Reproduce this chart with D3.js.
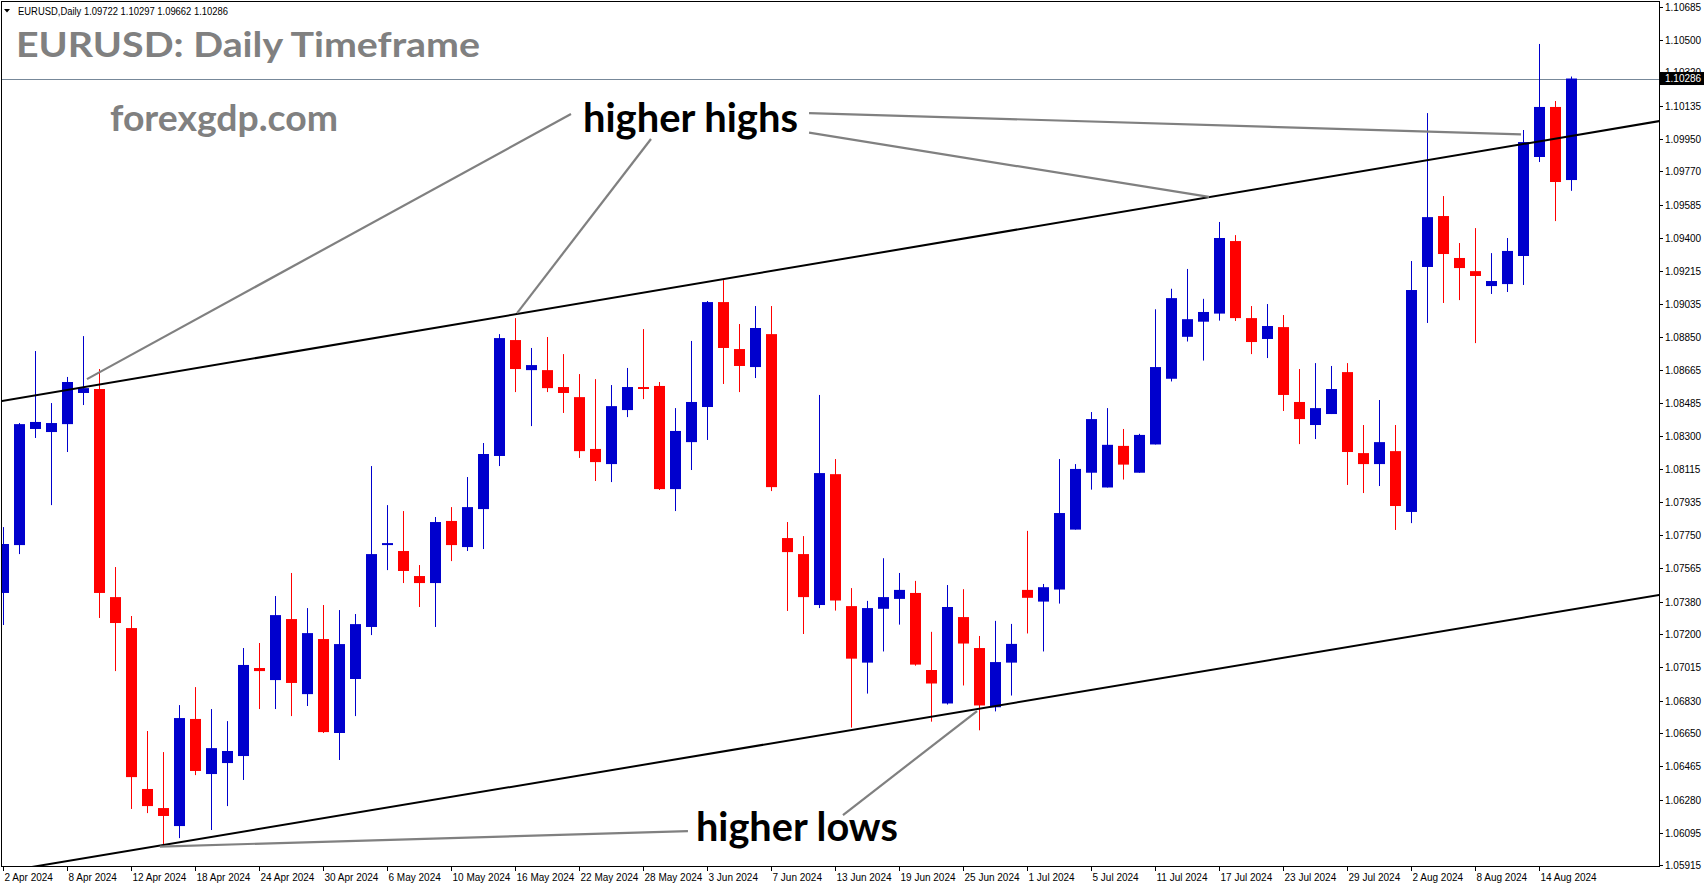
<!DOCTYPE html>
<html><head><meta charset="utf-8">
<script src="https://cdn.jsdelivr.net/npm/d3@7"></script>
<style>body{margin:0;background:#fff;overflow:hidden}</style>
</head><body>
<svg id="c" width="1705" height="888"></svg>
<script>
// ---- data (EURUSD daily, 2 Apr 2024 .. 16 Aug 2024) ----
const opens = [1.07428,1.07694,1.08339,1.08322,1.08366,1.08539,1.08561,1.07405,1.07233,1.06339,
1.06233,1.06133,1.06728,1.06422,1.06483,1.06522,1.07011,1.06944,1.07283,1.06866,
1.07172,1.06650,1.06950,1.07239,1.07694,1.07661,1.07522,1.07483,1.07828,1.07683,
1.07894,1.08189,1.08833,1.08666,1.08666,1.08572,1.08516,1.08228,1.08144,1.08444,
1.08572,1.08578,1.08005,1.08266,1.08461,1.09044,1.08783,1.08683,1.08866,1.07733,
1.07644,1.07361,1.08088,1.07355,1.07041,1.07340,1.07395,1.07428,1.07000,1.06814,
1.07294,1.07122,1.06793,1.07041,1.07445,1.07380,1.07447,1.07780,1.08096,1.08014,
1.08245,1.08096,1.08253,1.08618,1.08851,1.08935,1.08980,1.09383,1.08955,1.08839,
1.08905,1.08489,1.08361,1.08422,1.08655,1.08205,1.08144,1.08216,1.07878,1.09239,
1.09522,1.09289,1.09216,1.09133,1.09144,1.09300,1.09850,1.10128,1.09722];
const highs = [1.07794,1.08372,1.08772,1.08483,1.08628,1.08855,1.08672,1.07572,1.07300,1.06661,
1.06544,1.06805,1.06905,1.06783,1.06716,1.07122,1.07150,1.07411,1.07539,1.07344,
1.07361,1.07333,1.07311,1.08133,1.07916,1.07883,1.07583,1.07850,1.07905,1.08072,
1.08261,1.08866,1.08955,1.08789,1.08850,1.08755,1.08644,1.08616,1.08583,1.08678,
1.08894,1.08600,1.08455,1.08828,1.09050,1.09166,1.08922,1.09022,1.09022,1.07822,
1.07744,1.08528,1.08172,1.07455,1.07384,1.07621,1.07539,1.07495,1.07212,1.07472,
1.07449,1.07189,1.07273,1.07256,1.07773,1.07478,1.08172,1.08144,1.08433,1.08455,
1.08339,1.08312,1.09004,1.09118,1.09228,1.09062,1.09489,1.09416,1.09022,1.09033,
1.08972,1.08672,1.08705,1.08689,1.08705,1.08361,1.08500,1.08361,1.09272,1.10094,
1.09633,1.09372,1.09455,1.09316,1.09400,1.10000,1.10478,1.10161,1.10297];
const lows = [1.07250,1.07644,1.08289,1.07916,1.08211,1.08472,1.07289,1.06994,1.06228,1.06205,
1.06028,1.06066,1.06416,1.06111,1.06244,1.06389,1.06783,1.06783,1.06744,1.06800,
1.06650,1.06500,1.06744,1.07194,1.07555,1.07483,1.07350,1.07239,1.07605,1.07661,
1.07672,1.08133,1.08544,1.08355,1.08544,1.08428,1.08178,1.08050,1.08044,1.08405,
1.08505,1.08000,1.07883,1.08111,1.08278,1.08589,1.08544,1.08622,1.07994,1.07328,
1.07200,1.07344,1.07330,1.06680,1.06869,1.07103,1.07252,1.07024,1.06713,1.06808,
1.06914,1.06665,1.06770,1.06858,1.07203,1.07103,1.07369,1.07780,1.08002,1.08014,
1.08058,1.08096,1.08253,1.08603,1.08825,1.08719,1.08941,1.08939,1.08755,1.08733,
1.08439,1.08255,1.08283,1.08422,1.08028,1.07983,1.08022,1.07778,1.07816,1.08928,
1.09039,1.09055,1.08816,1.09089,1.09100,1.09139,1.09822,1.09494,1.09662];
const closes = [1.07700,1.08366,1.08378,1.08372,1.08600,1.08566,1.07428,1.07261,1.06405,1.06244,
1.06189,1.06733,1.06439,1.06566,1.06550,1.07028,1.06994,1.07305,1.06928,1.07205,
1.06655,1.07144,1.07255,1.07644,1.07705,1.07550,1.07483,1.07822,1.07694,1.07905,
1.08200,1.08844,1.08672,1.08694,1.08566,1.08539,1.08216,1.08155,1.08466,1.08572,
1.08561,1.08005,1.08328,1.08489,1.09044,1.08789,1.08689,1.08900,1.08016,1.07655,
1.07405,1.08094,1.07386,1.07063,1.07344,1.07405,1.07445,1.07030,1.06925,1.07350,
1.07147,1.06803,1.07044,1.07145,1.07401,1.07460,1.07872,1.08117,1.08394,1.08251,
1.08141,1.08306,1.08683,1.09066,1.08949,1.08989,1.09400,1.08955,1.08822,1.08911,
1.08528,1.08394,1.08455,1.08561,1.08211,1.08144,1.08266,1.07911,1.09111,1.09516,
1.09311,1.09233,1.09189,1.09161,1.09328,1.09933,1.10128,1.09711,1.10286];

const dateLabels = ["2 Apr 2024","8 Apr 2024","12 Apr 2024","18 Apr 2024","24 Apr 2024","30 Apr 2024",
"6 May 2024","10 May 2024","16 May 2024","22 May 2024","28 May 2024","3 Jun 2024","7 Jun 2024",
"13 Jun 2024","19 Jun 2024","25 Jun 2024","1 Jul 2024","5 Jul 2024","11 Jul 2024","17 Jul 2024",
"23 Jul 2024","29 Jul 2024","2 Aug 2024","8 Aug 2024","14 Aug 2024"];
const dateLabelStep = 4;
const priceLabels = ["1.10685","1.10500","1.10320","1.10135","1.09950","1.09770","1.09585","1.09400",
"1.09215","1.09035","1.08850","1.08665","1.08485","1.08300","1.08115","1.07935","1.07750","1.07565",
"1.07380","1.07200","1.07015","1.06830","1.06650","1.06465","1.06280","1.06095","1.05915"];
const lastPrice = 1.10286;
const headerText = "EURUSD,Daily  1.09722 1.10297 1.09662 1.10286";

// trend lines: [bar index, price] anchors, extended as rays across the chart
const upperTrend = [[0, 1.08496], [98, 1.09967]];
const lowerTrend = [[8, 1.05998], [98, 1.07335]];
// annotation pointer lines
const highPointers = [
  [[35.48, 1.10089], [5.23, 1.08616]],
  [[40.48, 1.09950], [32.11, 1.08983]],
  [[50.36, 1.10094], [94.86, 1.09976]],
  [[50.36, 1.09985], [75.36, 1.09628]]
];
const lowPointers = [
  [[42.79, 1.06105], [9.79, 1.06019]],
  [[52.48, 1.06194], [60.86, 1.06772]]
];
const labelHighs = {text: "higher highs", bar: 36.23, price: 1.09990};
const labelLows = {text: "higher lows", bar: 43.29, price: 1.06052};

// ---- layout ----
const W = 1705, H = 888;
const plot = {left: 1, top: 1, right: 1659, bottom: 867};
const svg = d3.select("#c");
const x = d3.scaleLinear().domain([0, 98]).range([3.3, 3.3 + 98 * 16]);
const y = d3.scaleLinear().domain([1.05915, 1.10685]).range([865.3, 6.7]);
const UP = "#0000CD", DOWN = "#FF0000";
const axisFont = "'Liberation Sans', Arial, sans-serif";

svg.append("rect").attr("width", W).attr("height", H).attr("fill", "#fff");

svg.append("defs").append("clipPath").attr("id", "pc")
  .append("rect").attr("x", plot.left + 1).attr("y", plot.top + 1)
  .attr("width", plot.right - plot.left - 1).attr("height", plot.bottom - plot.top - 1);

// current price line
svg.append("line").attr("x1", plot.left).attr("x2", plot.right)
  .attr("y1", Math.round(y(lastPrice)) + 0.5).attr("y2", Math.round(y(lastPrice)) + 0.5)
  .attr("stroke", "#778899").attr("stroke-width", 1);

// candles
const bars = d3.range(opens.length).map(i => ({i, o: opens[i], h: highs[i], l: lows[i], c: closes[i]}));
const g = svg.append("g").attr("clip-path", "url(#pc)");
g.selectAll("line.w").data(bars).join("line").attr("class", "w")
  .attr("x1", d => Math.round(x(d.i)) + 0.5).attr("x2", d => Math.round(x(d.i)) + 0.5)
  .attr("y1", d => y(d.h)).attr("y2", d => y(d.l))
  .attr("stroke", d => d.c >= d.o ? UP : DOWN).attr("stroke-width", 1);
g.selectAll("rect.b").data(bars).join("rect").attr("class", "b")
  .attr("x", d => Math.round(x(d.i)) - 5).attr("width", 11)
  .attr("y", d => y(Math.max(d.o, d.c)))
  .attr("height", d => Math.max(1.5, Math.abs(y(d.o) - y(d.c))))
  .attr("fill", d => d.c >= d.o ? UP : DOWN);

// trend lines (extended)
function extend(seg, b0, b1) {
  const [[i1, p1], [i2, p2]] = seg;
  const k = (p2 - p1) / (i2 - i1);
  return [[b0, p1 + k * (b0 - i1)], [b1, p1 + k * (b1 - i1)]];
}
const lineGen = d3.line().x(d => x(d[0])).y(d => y(d[1]));
const tl = svg.append("g").attr("clip-path", "url(#pc)");
[upperTrend, lowerTrend].forEach(seg => {
  tl.append("path").attr("d", lineGen(extend(seg, -2, 106)))
    .attr("stroke", "#000").attr("stroke-width", 2).attr("fill", "none");
});
[...highPointers, ...lowPointers].forEach(seg => {
  tl.append("path").attr("d", lineGen(seg))
    .attr("stroke", "#808080").attr("stroke-width", 2.2).attr("fill", "none");
});

// annotation labels
[[labelHighs, 215], [labelLows, 202]].forEach(([lb, len]) => {
  svg.append("text").attr("x", x(lb.bar)).attr("y", y(lb.price))
    .attr("font-family", "Lato, 'Open Sans', sans-serif").attr("font-weight", 700)
    .attr("font-size", 40).attr("fill", "#000")
    .attr("textLength", len).attr("lengthAdjust", "spacingAndGlyphs")
    .text(lb.text);
});

// title + watermark
svg.append("text").attr("x", 16).attr("y", 57).attr("font-family", "Lato, sans-serif")
  .attr("font-weight", 700).attr("font-size", 35).attr("fill", "#808080")
  .attr("textLength", 464).attr("lengthAdjust", "spacingAndGlyphs")
  .text("EURUSD: Daily Timeframe");
svg.append("text").attr("x", 110).attr("y", 131).attr("font-family", "Lato, sans-serif")
  .attr("font-weight", 700).attr("font-size", 37).attr("fill", "#808080")
  .attr("textLength", 228).attr("lengthAdjust", "spacingAndGlyphs")
  .text("forexgdp.com");

// header
svg.append("path").attr("d", "M4,9 L10,9 L7,12.5 Z").attr("fill", "#000");
svg.append("text").attr("x", 18).attr("y", 14.5).attr("font-family", axisFont)
  .attr("font-size", 10).attr("fill", "#000")
  .attr("textLength", 210).attr("lengthAdjust", "spacingAndGlyphs")
  .text(headerText);

// frame
svg.append("rect").attr("x", plot.left + 0.5).attr("y", plot.top + 0.5)
  .attr("width", plot.right - plot.left).attr("height", plot.bottom - plot.top - 1)
  .attr("fill", "none").attr("stroke", "#000").attr("stroke-width", 1);

// price axis
const pa = svg.append("g");
priceLabels.forEach(s => {
  const yy = Math.round(y(+s)) + 0.5;
  pa.append("line").attr("x1", plot.right).attr("x2", plot.right + 4)
    .attr("y1", yy).attr("y2", yy).attr("stroke", "#000");
  pa.append("text").attr("x", plot.right + 6).attr("y", yy).attr("dy", "0.35em")
    .attr("font-family", axisFont).attr("font-size", 10).attr("fill", "#000").text(s);
});
// last price tag
const ly = y(lastPrice);
svg.append("rect").attr("x", plot.right + 1).attr("y", ly - 6.5).attr("width", 44).attr("height", 13).attr("fill", "#000");
svg.append("text").attr("x", plot.right + 6).attr("y", ly).attr("dy", "0.35em")
  .attr("font-family", axisFont).attr("font-size", 10).attr("fill", "#fff").text(d3.format(".5f")(lastPrice));

// date axis
const da = svg.append("g");
dateLabels.forEach((s, k) => {
  const xx = Math.round(x(k * dateLabelStep)) + 0.5;
  da.append("line").attr("x1", xx).attr("x2", xx).attr("y1", plot.bottom).attr("y2", plot.bottom + 4).attr("stroke", "#000");
  da.append("text").attr("x", xx + 1).attr("y", 881).attr("font-family", axisFont)
    .attr("font-size", 10).attr("fill", "#000").text(s);
});
</script>
</body></html>
